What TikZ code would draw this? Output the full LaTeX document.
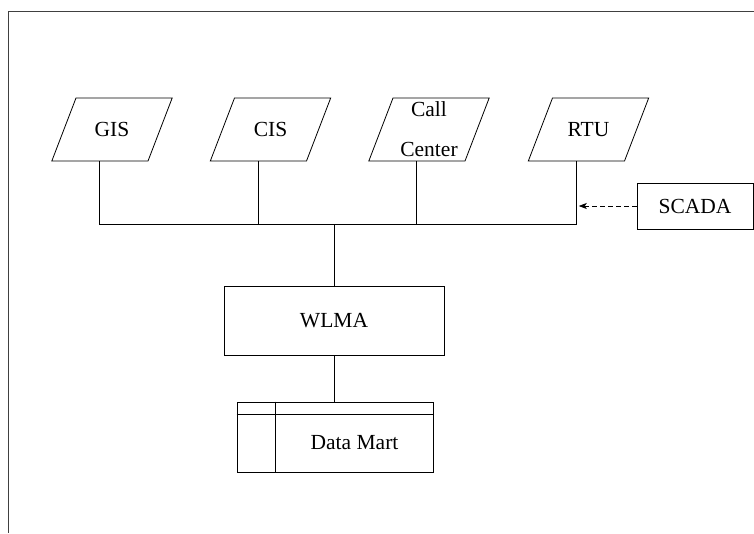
\documentclass[tikz,border=0pt]{standalone}
\usepackage{fontspec}
\setmainfont{Liberation Serif}
\usepackage{tikz}
\usetikzlibrary{shapes.geometric,arrows.meta}

\newcommand{\srctext}[1]{\parbox[c][63pt][c]{72pt}{\centering #1}}

\begin{document}
\begin{tikzpicture}[x=1pt,y=-1pt,line width=0.8pt,
    font=\fontsize{21.5}{40}\selectfont,
    src/.style={draw,trapezium,trapezium left angle=69,trapezium right angle=111,inner sep=0pt},
    box/.style={draw,rectangle,inner sep=0pt}]

    \useasboundingbox (0,0) rectangle (754,533);
    \draw[line width=1pt,black!75] (754,11) -- (8,11) -- (8,533);

    \node[src] (gis) at (112,129.5) {\srctext{GIS}};
    \node[src] (cis) at (270.5,129.5) {\srctext{CIS}};
    \node[src] (call) at (429,129.5) {\srctext{Call\\Center}};
    \node[src] (rtu) at (588.5,129.5) {\srctext{RTU}};
    \node[box,minimum width=116pt,minimum height=46pt] (scada) at (695,206) {SCADA};
    \node[box,minimum width=220pt,minimum height=69pt] (wlma) at (334,320.5) {WLMA};
    \node[box,minimum width=196pt,minimum height=70pt] (dm) at (335,437) {};
    \node (dmtext) at (354.5,443) {Data Mart};
    \coordinate (bus) at (334,224);

    \draw (gis.bottom side) -- (gis.bottom side |- bus) -- (rtu.bottom side |- bus) -- (rtu.bottom side);
	\foreach \n in {cis,call} \draw (\n.bottom side) -- (\n.bottom side |- bus);
    \draw (wlma.north) -- (bus);
    \draw[dash pattern=on 5pt off 3pt,-{Stealth[length=8pt,width=6pt,inset=2pt]},shorten >=2.5pt] (scada.west) -- (rtu.bottom side |- scada.west);
    \draw (wlma.south) -- (wlma.south |- dm.north);
    \draw ([yshift=-13pt]dm.north west) -- ([yshift=-13pt]dm.north east);
    \draw ([xshift=39pt]dm.north west) -- ([xshift=39pt]dm.south west);

\end{tikzpicture}
\end{document}
